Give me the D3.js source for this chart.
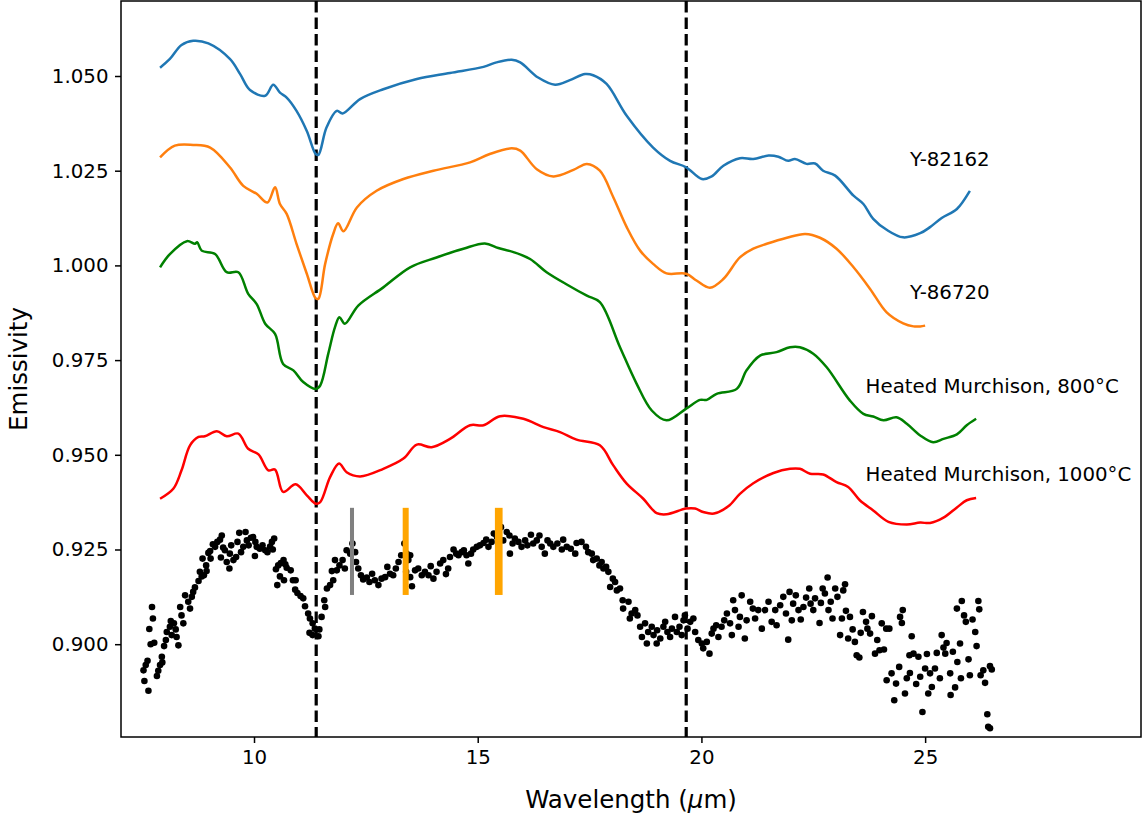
<!DOCTYPE html>
<html>
<head>
<meta charset="utf-8">
<script src="https://cdn.jsdelivr.net/npm/d3@7"></script>
<style>
  body { margin: 0; background: #fff; }
  text { font-family: "DejaVu Sans", sans-serif; }
</style>
</head>
<body>
<script>
// lab spectra (wavelength in micron, emissivity with offsets)
var y82162 = [[7.90,1.0522],[8.12,1.0545],[8.38,1.0582],[8.64,1.0593],[8.98,1.0586],[9.46,1.0545],[9.69,1.0505],[9.91,1.0463],[10.25,1.0448],[10.43,1.0477],[10.58,1.0456],[10.73,1.0443],[10.95,1.0408],[11.18,1.0355],[11.38,1.0294],[11.44,1.0292],[11.62,1.0364],[11.85,1.0408],[11.98,1.0401],[12.37,1.0439],[12.89,1.0465],[13.64,1.0492],[14.38,1.0508],[15.13,1.0524],[15.42,1.0536],[15.76,1.0543],[15.95,1.0536],[16.35,1.0496],[16.73,1.0477],[17.06,1.0489],[17.40,1.0505],[17.58,1.0502],[17.88,1.0479],[18.33,1.0395],[18.92,1.0311],[19.30,1.0276],[19.66,1.0259],[20.01,1.0228],[20.23,1.0235],[20.49,1.0263],[20.86,1.0283],[21.16,1.0281],[21.50,1.0290],[21.72,1.0287],[21.94,1.0276],[22.09,1.0281],[22.35,1.0268],[22.54,1.0269],[22.72,1.0250],[22.99,1.0237],[23.40,1.0184],[23.62,1.0162],[23.84,1.0123],[24.14,1.0094],[24.51,1.0074],[24.89,1.0085],[25.11,1.0101],[25.37,1.0125],[25.71,1.0149],[26.00,1.0197]]

var y86720 = [[7.90,1.0285],[8.23,1.0316],[8.64,1.0318],[9.02,1.0311],[9.46,1.0259],[9.76,1.0210],[10.06,1.0189],[10.30,1.0166],[10.47,1.0206],[10.58,1.0162],[10.73,1.0136],[10.95,1.0057],[11.18,0.9978],[11.38,0.9913],[11.44,0.9912],[11.59,1.0004],[11.77,1.0083],[11.88,1.0111],[12.00,1.0090],[12.30,1.0153],[12.74,1.0197],[13.34,1.0228],[14.01,1.0250],[14.83,1.0272],[15.27,1.0294],[15.76,1.0309],[15.95,1.0303],[16.32,1.0254],[16.69,1.0235],[17.14,1.0252],[17.44,1.0268],[17.73,1.0250],[18.03,1.0180],[18.33,1.0101],[18.63,1.0039],[18.92,1.0004],[19.22,0.9979],[19.66,0.9978],[19.89,0.9960],[20.19,0.9941],[20.49,0.9964],[20.86,1.0021],[21.16,1.0044],[21.46,1.0057],[21.91,1.0073],[22.32,1.0083],[22.65,1.0073],[23.02,1.0044],[23.40,0.9995],[23.77,0.9938],[24.14,0.9876],[24.51,0.9847],[24.74,0.9839],[24.89,0.9839],[25.00,0.9841]]

var murch800 = [[7.90,0.9995],[8.12,1.0030],[8.50,1.0064],[8.68,1.0057],[8.73,1.0061],[8.83,1.0039],[9.13,1.0030],[9.39,0.9982],[9.65,0.9982],[9.87,0.9925],[10.06,0.9898],[10.25,0.9846],[10.47,0.9819],[10.65,0.9740],[10.88,0.9723],[11.10,0.9692],[11.38,0.9674],[11.48,0.9683],[11.66,0.9767],[11.81,0.9837],[11.91,0.9863],[12.03,0.9846],[12.33,0.9894],[12.89,0.9942],[13.49,0.9995],[14.08,1.0021],[14.68,1.0044],[15.16,1.0058],[15.46,1.0046],[15.80,1.0035],[16.17,1.0017],[16.54,0.9982],[17.03,0.9947],[17.44,0.9920],[17.73,0.9903],[18.18,0.9784],[18.55,0.9688],[18.89,0.9617],[19.22,0.9591],[19.66,0.9622],[19.97,0.9645],[20.12,0.9645],[20.34,0.9661],[20.79,0.9674],[21.01,0.9723],[21.31,0.9762],[21.68,0.9771],[21.98,0.9784],[22.20,0.9784],[22.50,0.9767],[22.80,0.9731],[23.32,0.9643],[23.62,0.9608],[23.84,0.9601],[24.07,0.9591],[24.36,0.9599],[24.59,0.9582],[24.89,0.9551],[25.18,0.9533],[25.41,0.9542],[25.71,0.9554],[25.93,0.9578],[26.14,0.9595]]

var murch1000 = [[7.90,0.9384],[8.20,0.9411],[8.38,0.9459],[8.57,0.9525],[8.76,0.9547],[8.90,0.9549],[9.17,0.9562],[9.39,0.9549],[9.65,0.9556],[9.87,0.9516],[10.10,0.9501],[10.32,0.9459],[10.47,0.9461],[10.65,0.9402],[10.93,0.9422],[11.18,0.9393],[11.38,0.9371],[11.48,0.9375],[11.70,0.9441],[11.90,0.9477],[12.07,0.9454],[12.37,0.9443],[12.89,0.9463],[13.34,0.9490],[13.64,0.9527],[13.97,0.9520],[14.38,0.9542],[14.83,0.9578],[15.13,0.9578],[15.50,0.9602],[16.02,0.9595],[16.47,0.9573],[16.84,0.9560],[17.21,0.9540],[17.73,0.9525],[18.03,0.9472],[18.33,0.9424],[18.70,0.9384],[19.00,0.9346],[19.22,0.9343],[19.66,0.9358],[19.86,0.9358],[20.04,0.9349],[20.28,0.9345],[20.60,0.9364],[20.86,0.9397],[21.16,0.9425],[21.61,0.9452],[21.98,0.9463],[22.20,0.9463],[22.43,0.9450],[22.72,0.9448],[23.02,0.9428],[23.28,0.9415],[23.54,0.9380],[23.84,0.9353],[24.18,0.9323],[24.59,0.9316],[24.89,0.9321],[25.11,0.9320],[25.41,0.9334],[25.71,0.9361],[25.93,0.9380],[26.14,0.9386]]

// observed spectrum (points)
var observed = [[7.64,.8877],[7.55,.8903],[7.53,.8931],[7.58,.8945],[7.62,.8956],[7.83,.8916],[7.86,.8930],[7.90,.8945],[7.95,.8952],[7.94,.8967],[7.69,.9000],[7.77,.9004],[7.66,.9040],[7.74,.9068],[7.72,.9098],[7.99,.8995],[8.03,.9011],[8.05,.9032],[8.12,.9046],[8.16,.9024],[8.21,.9055],[8.27,.9019],[8.31,.8997],[8.14,.9061],[8.25,.9039],[8.38,.9076],[8.42,.9055],[8.35,.9098],[8.46,.9129],[8.57,.9094],[8.53,.9112],[8.61,.9125],[8.64,.9138],[8.68,.9150],[8.76,.9167],[8.83,.9179],[8.79,.9191],[8.88,.9182],[8.94,.9193],[8.85,.9226],[8.93,.9208],[9.03,.9226],[8.98,.9241],[9.02,.9246],[9.08,.9264],[9.13,.9257],[9.18,.9270],[9.28,.9287],[9.24,.9276],[9.31,.9255],[9.35,.9248],[9.26,.9229],[9.39,.9217],[9.45,.9200],[9.46,.9239],[9.49,.9261],[9.54,.9222],[9.60,.9230],[9.63,.9270],[9.67,.9294],[9.71,.9243],[9.76,.9257],[9.81,.9296],[9.84,.9274],[9.88,.9261],[9.93,.9281],[9.98,.9283],[10.03,.9270],[10.06,.9257],[10.02,.9233],[10.13,.9252],[10.19,.9261],[10.25,.9248],[10.30,.9243],[10.36,.9258],[10.40,.9270],[10.45,.9279],[10.42,.9250],[10.49,.9198],[10.54,.9208],[10.60,.9214],[10.66,.9222],[10.70,.9211],[10.58,.9179],[10.52,.9156],[10.67,.9169],[10.73,.9202],[10.82,.9195],[10.87,.9169],[10.93,.9169],[10.92,.9144],[10.97,.9135],[11.04,.9127],[11.10,.9121],[11.14,.9100],[11.21,.9081],[11.25,.9068],[11.31,.9055],[11.36,.9041],[11.24,.9030],[11.31,.9024],[11.44,.9021],[11.46,.9039],[11.51,.9072],[11.59,.9098],[11.57,.9116],[11.63,.9147],[11.70,.9156],[11.77,.9169],[11.74,.9193],[11.85,.9195],[11.81,.9222],[11.91,.9208],
  [11.98,.9222],[12.03,.9200],[12.07,.9248],[12.15,.9239],[12.20,.9266],[12.26,.9243],[12.28,.9217],[12.33,.9200],[12.39,.9182],[12.44,.9171],[12.52,.9176],[12.58,.9164],[12.64,.9186],[12.70,.9169],[12.78,.9156],[12.85,.9173],[12.93,.9177],[12.98,.9204],[13.04,.9186],[13.11,.9182],[13.17,.9200],[13.23,.9217],[13.29,.9235],[13.36,.9266],[13.41,.9239],[13.45,.9222],[13.49,.9235],[13.40,.9191],[13.49,.9177],[13.53,.9153],[13.60,.9195],[13.67,.9200],[13.75,.9182],[13.82,.9191],[13.90,.9182],[13.95,.9206],[14.01,.9173],[14.08,.9191],[14.16,.9213],[14.23,.9222],[14.29,.9185],[14.34,.9200],[14.38,.9230],[14.46,.9250],[14.52,.9239],[14.57,.9235],[14.64,.9243],[14.69,.9248],[14.75,.9235],[14.79,.9213],[14.85,.9239],[14.90,.9250],[14.98,.9257],[15.05,.9261],[15.13,.9267],[15.19,.9276],[15.24,.9257],[15.31,.9270],[15.36,.9292],[15.43,.9283],[15.46,.9239],[15.52,.9309],[15.57,.9274],[15.65,.9296],[15.71,.9287],[15.72,.9239],[15.78,.9266],[15.83,.9279],[15.91,.9270],[15.98,.9257],[16.06,.9274],[16.11,.9261],[16.19,.9289],[16.24,.9266],[16.32,.9274],[16.38,.9287],[16.43,.9257],[16.50,.9239],[16.56,.9274],[16.62,.9266],
  [16.69,.9257],[16.78,.9266],[16.91,.9276],[16.88,.9250],[16.99,.9257],[17.08,.9252],[17.18,.9239],[17.21,.9267],[17.32,.9270],[17.42,.9257],[17.47,.9243],[17.55,.9239],[17.58,.9222],[17.66,.9226],[17.72,.9208],[17.77,.9217],[17.81,.9200],[17.87,.9204],[17.92,.9191],[17.96,.9151],[18.02,.9173],[18.07,.9164],[18.11,.9142],[18.18,.9147],[18.24,.9116],[18.25,.9094],[18.37,.9112],[18.44,.9081],[18.52,.9090],[18.40,.9068],[18.57,.9076],[18.63,.9046],[18.67,.9019],[18.74,.9055],[18.78,.9002],[18.81,.9032],[18.89,.9046],[18.93,.9024],[19.00,.9002],[19.01,.9037],[19.08,.9015],[19.15,.9046],[19.19,.9059],[19.24,.9032],[19.30,.9019],[19.34,.9041],[19.41,.9072],[19.45,.9032],[19.51,.9046],[19.56,.9024],[19.60,.9063],[19.63,.9076],[19.69,.9041],[19.75,.9059],[19.82,.9068],[19.86,.9032],[19.93,.9011],[20.01,.9002],[20.04,.8989],[20.12,.9006],[20.18,.8975],[20.23,.9028],[20.27,.9041],[20.33,.9050],[20.38,.9019],[20.45,.9046],[20.51,.9063],[20.57,.9081],[20.64,.9055],[20.68,.9024],[20.71,.9116],[20.75,.9090],[20.83,.9046],[20.86,.9072],[20.90,.9129],[20.97,.9015],[21.01,.9063],[21.09,.9112],[21.15,.9094],[21.20,.9068],[21.27,.9090],
  [21.35,.9041],[21.42,.9090],[21.50,.9112],[21.57,.9059],[21.65,.9090],[21.68,.9050],[21.76,.9103],[21.83,.9125],[21.89,.9081],[21.94,.9012],[21.97,.9138],[22.02,.9063],[22.05,.9107],[22.11,.9129],[22.17,.9090],[22.22,.9065],[22.28,.9098],[22.34,.9123],[22.41,.9147],[22.44,.9107],[22.50,.9090],[22.54,.9121],[22.64,.9056],[22.67,.9109],[22.71,.9147],[22.76,.9134],[22.82,.9176],[22.84,.9090],[22.89,.9112],[22.93,.9068],[22.99,.9147],[23.04,.9125],[23.10,.9024],[23.14,.9068],[23.17,.9142],[23.21,.9158],[23.23,.9088],[23.28,.9015],[23.32,.9072],[23.38,.9039],[23.43,.9006],[23.47,.8971],[23.53,.8965],[23.56,.9030],[23.61,.9085],[23.68,.9059],[23.71,.9041],[23.77,.9028],[23.81,.9074],[23.88,.8975],[23.93,.9011],[23.98,.8984],[24.03,.9055],[24.08,.8986],[24.13,.9041],[24.20,.9041],[24.14,.8905],[24.25,.8923],[24.31,.8852],[24.35,.8896],[24.42,.8940],[24.44,.9072],[24.48,.9056],[24.50,.9090],[24.55,.8870],[24.59,.8910],[24.66,.8924],[24.70,.9021],[24.65,.8971],[24.74,.8975],[24.80,.8895],[24.85,.8967],[24.89,.8914],[24.94,.8821],[25.00,.8936],[25.04,.8974],[25.07,.8870],[25.11,.8923],[25.15,.8887],[25.22,.8936],[25.26,.8977],[25.33,.8910],[25.37,.9024],[25.41,.8991],[25.45,.8975],[25.48,.9003],[25.56,.8923],[25.57,.8866],[25.62,.8980],[25.67,.8886],[25.71,.9094],[25.72,.8953],[25.78,.9002],[25.80,.8910],[25.82,.9114],[25.87,.9076],[25.91,.9059],[25.97,.8960],[26.00,.8918],[26.06,.9065],[26.12,.9032],[26.15,.8995],[26.19,.9114],[26.21,.9092],[26.24,.8918],[26.30,.8931],[26.34,.8898],[26.45,.8942],[26.49,.8933],[26.39,.8815],[26.41,.8782],[26.45,.8778]]

var seriesNames = ["Y-82162", "Y-86720", "Heated Murchison, 800°C", "Heated Murchison, 1000°C"]
var seriesData = [y82162, y86720, murch800, murch1000]
var seriesColors = ["#1f77b4", "#ff7f0e", "green", "red"]
var labelX = [24.66, 24.66, 23.67, 23.67]
var labelY = [1.0263, 0.9910, 0.9662, 0.9431]

var featureLines = [11.39, 19.66]
var bandCenters = [12.19, 13.39, 15.47]
var bandWidths = [0.09, 0.134, 0.172]
var bandColors = ["gray", "orange", "orange"]
var bandRange = [0.913, 0.936]

var xTicks = [10, 15, 20, 25]
var yTicks = [0.900, 0.925, 0.950, 0.975, 1.000, 1.025, 1.050]

var width = 1144
var height = 818
// plot area (note: "top" is reserved on window)
var pLeft = 121, pRight = 1141, pTop = 1, pBottom = 737

var svg = d3.select("body")
  .append("svg")
    .attr("width", width)
    .attr("height", height)

var x = d3.scaleLinear().domain([7.027, 29.825]).range([pLeft, pRight])
var y = d3.scaleLinear().domain([0.8755, 1.0698]).range([pBottom, pTop])

// dashed feature lines
svg.append("g")
  .selectAll("line")
  .data(featureLines)
  .enter()
  .append("line")
    .attr("x1", function(d){ return x(d) })
    .attr("x2", function(d){ return x(d) })
    .attr("y1", pTop)
    .attr("y2", pBottom)
    .attr("stroke", "black")
    .attr("stroke-width", 3.2)
    .attr("stroke-dasharray", "11.5,5")

// spectra
var line = d3.line()
  .x(function(d){ return x(d[0]) })
  .y(function(d){ return y(d[1]) })
  .curve(d3.curveCatmullRom.alpha(0.5))

svg.append("g")
  .selectAll("path")
  .data(seriesData)
  .enter()
  .append("path")
    .attr("d", line)
    .attr("fill", "none")
    .attr("stroke", function(d, i){ return seriesColors[i] })
    .attr("stroke-width", 2.5)
    .attr("stroke-linejoin", "round")

// observed points
svg.append("g")
  .selectAll("circle")
  .data(observed)
  .enter()
  .append("circle")
    .attr("cx", function(d){ return x(d[0]) })
    .attr("cy", function(d){ return y(d[1]) })
    .attr("r", 3.3)
    .attr("fill", "black")

// band markers
svg.append("g")
  .selectAll("rect")
  .data(bandCenters)
  .enter()
  .append("rect")
    .attr("x", function(d, i){ return x(d - bandWidths[i] / 2) })
    .attr("width", function(d, i){ return x(d + bandWidths[i] / 2) - x(d - bandWidths[i] / 2) })
    .attr("y", y(bandRange[1]))
    .attr("height", y(bandRange[0]) - y(bandRange[1]))
    .attr("fill", function(d, i){ return bandColors[i] })

// series labels
svg.append("g")
  .selectAll("text")
  .data(seriesNames)
  .enter()
  .append("text")
    .attr("x", function(d, i){ return x(labelX[i]) })
    .attr("y", function(d, i){ return y(labelY[i]) })
    .style("font-size", "19.8px")
    .attr("fill", "black")
    .text(function(d){ return d })

// axes
var xAxis = svg.append("g")
  .attr("transform", "translate(0," + pBottom + ")")
  .call(d3.axisBottom(x).tickValues(xTicks).tickSize(6).tickPadding(7).tickSizeOuter(0))
var yAxis = svg.append("g")
  .attr("transform", "translate(" + pLeft + ",0)")
  .call(d3.axisLeft(y).tickValues(yTicks).tickFormat(d3.format(".3f")).tickSize(6).tickPadding(6.5).tickSizeOuter(0))

;[xAxis, yAxis].forEach(function(g){
  g.select(".domain").remove()
  g.selectAll(".tick line").attr("stroke", "black").attr("stroke-width", 1.5)
  g.selectAll(".tick text")
    .style("font-family", "DejaVu Sans")
    .style("font-size", "19.8px")
    .attr("fill", "black")
})

// frame
svg.append("rect")
  .attr("x", pLeft)
  .attr("y", pTop)
  .attr("width", pRight - pLeft)
  .attr("height", pBottom - pTop)
  .attr("fill", "none")
  .attr("stroke", "black")
  .attr("stroke-width", 1.5)

// axis titles
var xLabel = svg.append("text")
  .attr("x", (pLeft + pRight) / 2)
  .attr("y", 808)
  .attr("text-anchor", "middle")
  .style("font-size", "24.5px")
  .attr("fill", "black")
xLabel.append("tspan").text("Wavelength (")
xLabel.append("tspan").attr("font-style", "italic").text("μ")
xLabel.append("tspan").text("m)")

svg.append("text")
  .attr("transform", "translate(27," + ((pTop + pBottom) / 2) + ") rotate(-90)")
  .attr("text-anchor", "middle")
  .style("font-size", "24.5px")
  .attr("fill", "black")
  .text("Emissivity")
</script>
</body>
</html>
